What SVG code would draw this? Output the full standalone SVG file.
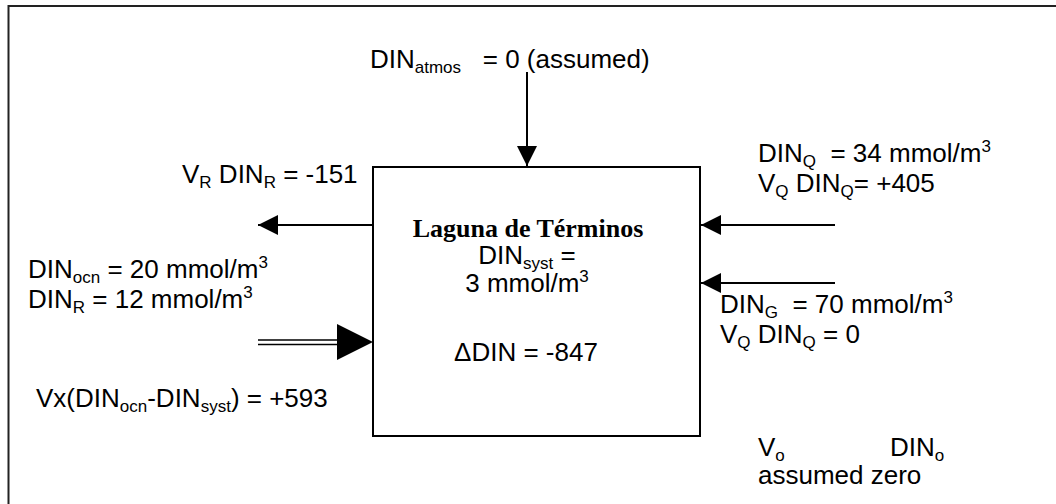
<svg xmlns="http://www.w3.org/2000/svg" width="1056" height="504" viewBox="0 0 1056 504">
  <style>
    text { font-family: "Liberation Sans", Arial, sans-serif; font-size: 26px; fill: #000; white-space: pre; }
    .title { font-family: "Liberation Serif", "Times New Roman", serif; font-weight: bold; }
    .sub { font-size: 17px; }
    .sup { font-size: 17px; }
    .line { stroke: #000; stroke-width: 2; fill: none; }
    .box { stroke: #000; stroke-width: 2; fill: #fff; }
  </style>
  <defs>
    <marker id="head" viewBox="0 0 20 20" refX="20" refY="10" markerWidth="20" markerHeight="20" markerUnits="userSpaceOnUse" orient="auto">
      <path d="M0,0 L20,10 L0,20 Z" fill="#000"/>
    </marker>
  </defs>

  <rect width="1056" height="504" fill="#fff"/>

  <!-- open frame: top and left edges -->
  <path d="M8.5,504 V6 H1056" stroke="#222" stroke-width="2" fill="none"/>

  <!-- main budget box -->
  <g id="laguna">
    <rect class="box" x="373" y="167" width="327" height="269"/>
    <text class="title" x="528" y="237" text-anchor="middle">Laguna de Términos</text>
    <text x="527" y="264" text-anchor="middle">DIN<tspan class="sub" dy="5">syst</tspan><tspan dy="-5"> =</tspan></text>
    <text x="527" y="292" text-anchor="middle">3 mmol/m<tspan class="sup" dy="-10">3</tspan></text>
    <text x="526" y="361" text-anchor="middle">ΔDIN = -847</text>
  </g>

  <!-- connectors -->
  <g id="connectors">
    <line class="line" x1="527" y1="72" x2="527" y2="166" marker-end="url(#head)"/>
    <line class="line" x1="373" y1="225" x2="258" y2="225" marker-end="url(#head)"/>
    <line class="line" x1="835" y1="225" x2="701" y2="225" marker-end="url(#head)"/>
    <line class="line" x1="835" y1="283" x2="701" y2="283" marker-end="url(#head)"/>
    <!-- exchange flow: double shaft with large head -->
    <line x1="258" y1="340" x2="340" y2="340" stroke="#000" stroke-width="1.5"/>
    <line x1="258" y1="344.5" x2="340" y2="344.5" stroke="#000" stroke-width="1.5"/>
    <path d="M337,324 L373,342 L337,360 Z" fill="#000"/>
  </g>

  <g id="atmos">
    <text x="370" y="68">DIN<tspan class="sub" dy="5">atmos</tspan><tspan dy="-5">   = 0 (assumed)</tspan></text>
  </g>

  <g id="river-out">
    <text x="182" y="183">V<tspan class="sub" dy="5">R</tspan><tspan dy="-5"> DIN</tspan><tspan class="sub" dy="5">R</tspan><tspan dy="-5"> = -151</tspan></text>
  </g>

  <g id="ocean">
    <text x="28" y="278">DIN<tspan class="sub" dy="5">ocn</tspan><tspan dy="-5"> = 20 mmol/m</tspan><tspan class="sup" dy="-10">3</tspan></text>
    <text x="28" y="308">DIN<tspan class="sub" dy="5">R</tspan><tspan dy="-5"> = 12 mmol/m</tspan><tspan class="sup" dy="-10">3</tspan></text>
  </g>

  <g id="exchange">
    <text x="36" y="407">Vx(DIN<tspan class="sub" dy="5">ocn</tspan><tspan dy="-5">-DIN</tspan><tspan class="sub" dy="5">syst</tspan><tspan dy="-5">) = +593</tspan></text>
  </g>

  <g id="runoff">
    <text x="758" y="162">DIN<tspan class="sub" dy="5">Q</tspan><tspan dy="-5">  = 34 mmol/m</tspan><tspan class="sup" dy="-10">3</tspan></text>
    <text x="758" y="192">V<tspan class="sub" dy="5">Q</tspan><tspan dy="-5"> DIN</tspan><tspan class="sub" dy="5">Q</tspan><tspan dy="-5">= +405</tspan></text>
  </g>

  <g id="groundwater">
    <text x="720" y="313">DIN<tspan class="sub" dy="5">G</tspan><tspan dy="-5">  = 70 mmol/m</tspan><tspan class="sup" dy="-10">3</tspan></text>
    <text x="720" y="343">V<tspan class="sub" dy="5">Q</tspan><tspan dy="-5"> DIN</tspan><tspan class="sub" dy="5">Q</tspan><tspan dy="-5"> = 0</tspan></text>
  </g>

  <g id="other">
    <text x="758" y="456">V<tspan class="sub" dy="5">o</tspan></text>
    <text x="890" y="456">DIN<tspan class="sub" dy="5">o</tspan></text>
    <text x="758" y="484">assumed zero</text>
  </g>
</svg>
